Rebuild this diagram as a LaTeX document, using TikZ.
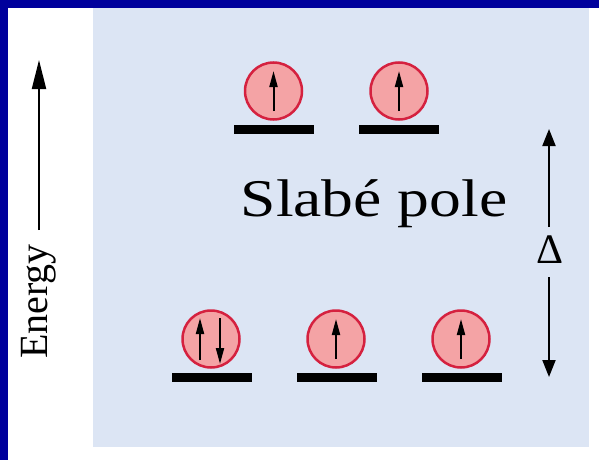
\documentclass[tikz,border=0pt]{standalone}
\usepackage{fontspec}
\setmainfont{Liberation Serif}
\usetikzlibrary{arrows.meta,calc}
\definecolor{frameblue}{HTML}{00009C}
\definecolor{panelblue}{HTML}{DCE5F4}
\definecolor{orbfill}{HTML}{F4A3A5}
\definecolor{orbline}{HTML}{D5213F}
\tikzset{
  orb/.style={circle, draw=orbline, fill=orbfill, line width=2.5pt, minimum size=57pt, inner sep=0pt},
  level/.style={rectangle, fill=black, minimum width=80pt, minimum height=9pt, inner sep=0pt},
  spin/.style={line width=2pt, -{Triangle[length=16pt,width=8pt]}},
  gap/.style={line width=2pt, -{Triangle[length=17pt,width=13pt]}},
  energyarrow/.style={line width=2pt, -{Triangle[length=29pt,width=14pt]}},
}
\begin{document}
\begin{tikzpicture}[x=1pt,y=-1pt]
\useasboundingbox (0,0) rectangle (599,460);
\fill[white] (0,0) rectangle (599,460);
\fill[panelblue] (93,8) rectangle (589,447);
\fill[frameblue] (0,0) rectangle (599,8);
\fill[frameblue] (0,0) rectangle (8,460);
% energy axis
\coordinate (e0) at (39,230);
\coordinate (e1) at (39,60);
\draw[energyarrow] (e0) -- (e1);
\node[rotate=90, anchor=base, inner sep=0pt, font=\fontsize{40}{40}\selectfont] (energy) at (47,301.5) {Energy};
% title
\node[anchor=base, inner sep=0pt, font=\fontsize{53}{53}\selectfont, xscale=1.2] (title) at (374,216) {Slabé pole};
% upper levels
\node[level] (ub1) at (273.5,129.5) {};
\node[level] (ub2) at (399,129.5) {};
\node[orb] (u1) at (273.5,91) {};
\node[orb] (u2) at (399,91) {};
\draw[spin] ($(u1)+(0,20)$) -- ($(u1)+(0,-20)$);
\draw[spin] ($(u2)+(0,20)$) -- ($(u2)+(0,-20)$);
% lower levels
\node[level] (lb1) at (212,377) {};
\node[level] (lb2) at (337,377) {};
\node[level] (lb3) at (462,377) {};
\node[orb] (l1) at (211,339) {};
\node[orb] (l2) at (336,339) {};
\node[orb] (l3) at (461,339) {};
\draw[spin] ($(l1)+(-11,21)$) -- ($(l1)+(-11,-21)$);
\draw[spin] ($(l1)+(9,-21)$) -- ($(l1)+(9,25)$);
\draw[spin] ($(l2)+(0,20)$) -- ($(l2)+(0,-20)$);
\draw[spin] ($(l3)+(0,20)$) -- ($(l3)+(0,-20)$);
% splitting
\node[anchor=base, inner sep=0pt, font=\fontsize{42}{42}\selectfont] (delta) at (550,263) {Δ};
\coordinate (dtop) at (549,129);
\coordinate (dbot) at (549,377);
\draw[gap] ([yshift=8pt]delta.north -| dtop) -- (dtop);
\draw[gap] ([yshift=-14pt]delta.south -| dbot) -- (dbot);
\end{tikzpicture}
\end{document}
